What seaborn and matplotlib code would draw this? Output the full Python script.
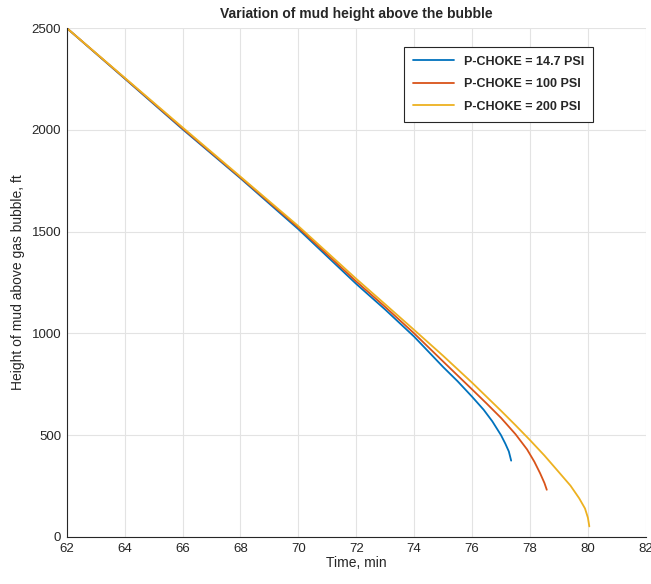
import seaborn as sns
import pandas as pd
import matplotlib.pyplot as plt

# Readings taken off the reference curves (time in min, height in ft)
time_147 = [62, 64, 66, 68, 70, 72, 73, 74, 75, 75.5, 76, 76.4, 76.7, 77.0, 77.15, 77.27, 77.35]
height_147 = [2500, 2252, 2003, 1762, 1512, 1243, 1117, 984, 835, 765, 689, 625, 568, 500, 458, 420, 375]

time_100 = [62, 64, 66, 68, 70, 72, 73, 74, 75, 76, 76.5, 77, 77.5, 77.9, 78.15, 78.35, 78.5, 78.58]
height_100 = [2500, 2254, 2007, 1766, 1520, 1255, 1130, 1000, 862, 725, 656, 585, 505, 430, 370, 313, 265, 232]

time_200 = [62, 64, 66, 68, 70, 72, 73, 74, 75, 76, 77, 77.5, 78, 78.5, 79, 79.4, 79.7, 79.9, 80.0, 80.05]
height_200 = [2500, 2256, 2012, 1770, 1527, 1268, 1143, 1017, 890, 758, 620, 549, 476, 400, 318, 252, 190, 140, 95, 52]

labels = ["P-CHOKE = 14.7 PSI", "P-CHOKE = 100 PSI", "P-CHOKE = 200 PSI"]
colors = ["#0072BD", "#D95319", "#EDB120"]

x_ticks = list(range(62, 83, 2))
y_ticks = [0, 500, 1000, 1500, 2000, 2500]


def build_frame():
    parts = []
    for t, h, lab in zip([time_147, time_100, time_200],
                         [height_147, height_100, height_200], labels):
        parts.append(pd.DataFrame({"time": t, "height": h, "series": lab}))
    return pd.concat(parts, ignore_index=True)


def main():
    sns.set_style("white")
    plt.rcParams["font.family"] = ["Liberation Sans", "DejaVu Sans"]
    plt.rcParams["xtick.direction"] = "in"
    plt.rcParams["ytick.direction"] = "in"

    df = build_frame()

    fig = plt.figure(figsize=(6.51, 5.84), dpi=100)
    ax = fig.add_axes([0.1025, 0.0805, 0.8895, 0.8715])

    sns.lineplot(data=df, x="time", y="height", hue="series",
                 palette=dict(zip(labels, colors)), estimator=None, sort=False,
                 linewidth=1.3, ax=ax)

    ax.set_xlim(62, 82)
    ax.set_ylim(0, 2500)
    ax.set_xticks(x_ticks)
    ax.set_yticks(y_ticks)
    ax.grid(True, color="#e3e3e3", linewidth=0.8)
    ax.set_axisbelow(True)

    for side in ["top", "right"]:
        ax.spines[side].set_visible(False)
    for side in ["left", "bottom"]:
        ax.spines[side].set_color("#262626")
        ax.spines[side].set_linewidth(0.8)
    ax.tick_params(axis="both", colors="#262626", labelsize=9.5, length=4, width=0.8, pad=4)

    ax.set_xlabel("Time, min", fontsize=10, color="#262626", labelpad=1)
    ax.set_ylabel("Height of mud above gas bubble, ft", fontsize=10, color="#262626", labelpad=5)
    ax.set_title("Variation of mud height above the bubble", fontsize=10, fontweight="bold", pad=7)

    leg = ax.legend(loc="upper right", bbox_to_anchor=(0.909, 0.963), borderaxespad=0,
                    fancybox=False, framealpha=1, edgecolor="#262626",
                    handlelength=3.3, labelspacing=0.85, borderpad=0.7,
                    prop={"weight": "bold", "size": 9})
    leg.get_frame().set_linewidth(0.8)

    fig.savefig("out.png", dpi=100)
    plt.close(fig)


if __name__ == "__main__":
    main()
